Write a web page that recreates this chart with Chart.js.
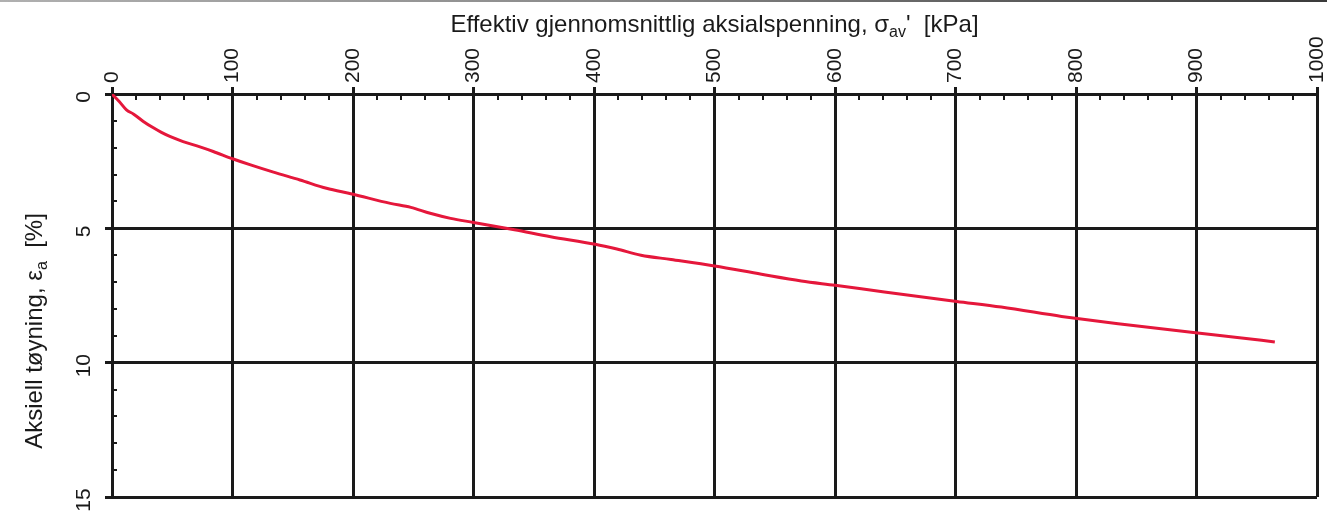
<!DOCTYPE html>
<html>
<head>
<meta charset="utf-8">
<script src="https://cdn.jsdelivr.net/npm/chart.js@4/dist/chart.umd.min.js"></script>
<style>
  html, body { margin: 0; padding: 0; background: #fff; }
  #wrap { width: 1327px; height: 511px; position: relative; }
</style>
</head>
<body>
<div id="wrap"><canvas id="c" width="1327" height="511"></canvas></div>
<script>
// Effective mean axial stress [kPa] and axial strain [%]
const stress = [0, 6, 12, 18, 26, 34, 41, 48, 59, 73, 84, 100, 115, 134, 156, 178, 199,
                231, 248, 264, 281, 300, 334, 364, 401, 419, 439, 464, 500, 539, 572, 600,
                641, 701, 738, 788, 801, 835, 901, 932, 965];
const strain = [0, 0.28, 0.59, 0.75, 1.02, 1.25, 1.43, 1.58, 1.77, 1.97, 2.14, 2.41, 2.64,
                2.91, 3.20, 3.51, 3.72, 4.07, 4.22, 4.44, 4.63, 4.78, 5.05, 5.31, 5.59, 5.77,
                6.00, 6.16, 6.40, 6.71, 6.96, 7.12, 7.37, 7.72, 7.93, 8.28, 8.36, 8.55, 8.90,
                9.05, 9.23];

// Axis tick values
const stressTicks = [0, 100, 200, 300, 400, 500, 600, 700, 800, 900, 1000];
const strainTicks = [0, 5, 10, 15];
const stressMinorStep = 20;
const strainMinorStep = 1;

const FONT = '"Liberation Sans", Arial, Helvetica, sans-serif';
const INK = '#1a1a1a';
const TICK_SIZE = 21;

// Draws a run of text with subscript pieces, centred on (0,0) of the current transform
function drawRich(ctx, parts, size, subSize, subDrop) {
  let total = 0;
  const widths = parts.map(([t, sub]) => {
    ctx.font = (sub ? subSize : size) + 'px ' + FONT;
    const w = ctx.measureText(t).width;
    total += w;
    return w;
  });
  let x = -total / 2;
  ctx.textAlign = 'left';
  ctx.textBaseline = 'alphabetic';
  parts.forEach(([t, sub], i) => {
    ctx.font = (sub ? subSize : size) + 'px ' + FONT;
    ctx.fillText(t, x, sub ? subDrop : 0);
    x += widths[i];
  });
}

const decorations = {
  id: 'decorations',
  afterDraw(chart) {
    const ctx = chart.ctx;
    const xs = chart.scales.x, ys = chart.scales.y;
    const area = chart.chartArea;
    ctx.save();

    // faint rule along the top edge of the sheet
    const g = ctx.createLinearGradient(0, 0, chart.width, 0);
    g.addColorStop(0, '#b0b0b0');
    g.addColorStop(0.45, '#8a8a8a');
    g.addColorStop(1, '#3a3a3a');
    ctx.strokeStyle = g;
    ctx.lineWidth = 2;
    ctx.beginPath();
    ctx.moveTo(0, 1);
    ctx.lineTo(chart.width, 1);
    ctx.stroke();

    // minor ticks on the stress axis (pointing into the plot)
    ctx.strokeStyle = INK;
    ctx.lineWidth = 2;
    ctx.beginPath();
    for (let v = xs.min + stressMinorStep; v < xs.max; v += stressMinorStep) {
      if (stressTicks.includes(v)) continue;
      const px = Math.round(xs.getPixelForValue(v));
      ctx.moveTo(px, area.top);
      ctx.lineTo(px, area.top + 6);
    }
    // minor ticks on the strain axis
    for (let v = ys.min + strainMinorStep; v < ys.max; v += strainMinorStep) {
      if (strainTicks.includes(v)) continue;
      const py = Math.round(ys.getPixelForValue(v));
      ctx.moveTo(area.left, py);
      ctx.lineTo(area.left + 5, py);
    }
    ctx.stroke();

    // axis titles
    ctx.fillStyle = INK;
    ctx.save();
    ctx.translate((area.left + area.right) / 2, 32);
    drawRich(ctx, [['Effektiv gjennomsnittlig aksialspenning, σ', false], ['av', true], ["'  [kPa]", false]], 24, 16, 5);
    ctx.restore();

    ctx.save();
    ctx.translate(42, 331);
    ctx.rotate(-Math.PI / 2);
    drawRich(ctx, [['Aksiell tøyning, ε', false], ['a', true], ['  [%]', false]], 24, 16, 5);
    ctx.restore();

    ctx.restore();
  }
};

const lineHeight = TICK_SIZE * 1.2;

new Chart(document.getElementById('c'), {
  type: 'line',
  data: {
    datasets: [{
      data: stress.map((s, i) => ({ x: s, y: strain[i] })),
      borderColor: '#e5173b',
      borderWidth: 3,
      pointRadius: 0,
      cubicInterpolationMode: 'monotone',
      fill: false
    }]
  },
  options: {
    responsive: false,
    animation: false,
    devicePixelRatio: 1,
    layout: { padding: { left: 0, right: 10, top: 0, bottom: 14 } },
    plugins: { legend: { display: false }, tooltip: { enabled: false } },
    scales: {
      x: {
        type: 'linear',
        position: 'top',
        min: 0,
        max: 1000,
        afterBuildTicks: s => { s.ticks = stressTicks.map(v => ({ value: v })); },
        afterFit: s => { s.height = 94; s.paddingLeft = 0; s.paddingRight = 0; },
        ticks: {
          minRotation: 90,
          maxRotation: 90,
          padding: 4,
          labelOffset: lineHeight,
          color: INK,
          font: { family: FONT, size: TICK_SIZE },
          callback: v => String(v)
        },
        grid: { color: INK, lineWidth: 3, tickLength: 7 },
        border: { color: INK, width: 3 }
      },
      y: {
        type: 'linear',
        reverse: true,
        min: 0,
        max: 15,
        afterBuildTicks: s => { s.ticks = strainTicks.map(v => ({ value: v })); },
        afterFit: s => { s.width = 112; s.paddingTop = 0; s.paddingBottom = 0; },
        ticks: {
          minRotation: 90,
          maxRotation: 90,
          crossAlign: 'center',
          padding: 9,
          labelOffset: 3,
          color: INK,
          font: { family: FONT, size: TICK_SIZE },
          callback: v => String(v)
        },
        grid: { color: INK, lineWidth: 3, tickLength: 7 },
        border: { color: INK, width: 3 }
      }
    }
  },
  plugins: [decorations]
});
</script>
</body>
</html>
